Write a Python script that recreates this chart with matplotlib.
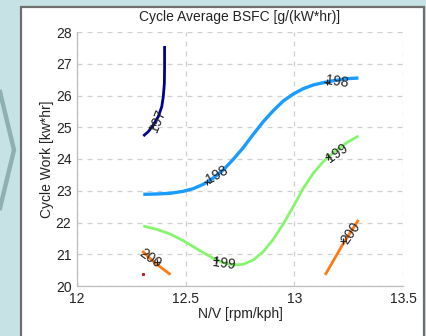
import matplotlib
matplotlib.use("Agg")
import matplotlib.pyplot as plt
from matplotlib.patches import Rectangle
from matplotlib.lines import Line2D

plt.rcParams['font.family'] = ['Liberation Sans', 'DejaVu Sans']

# Contour lines (level -> x, y)
x197 = [12.305, 12.328, 12.351, 12.374, 12.390, 12.397, 12.402, 12.403, 12.403]
y197 = [24.724, 24.861, 25.071, 25.333, 25.648, 25.963, 26.383, 26.908, 27.559]

x198 = [12.305, 12.367, 12.428, 12.489, 12.535, 12.581, 12.627, 12.673, 12.719,
        12.765, 12.811, 12.857, 12.903, 12.949, 12.995, 13.041, 13.087, 13.133,
        13.180, 13.241, 13.295]
y198 = [22.887, 22.898, 22.919, 22.982, 23.066, 23.202, 23.402, 23.654, 23.990,
        24.357, 24.777, 25.176, 25.522, 25.827, 26.047, 26.215, 26.331, 26.404,
        26.467, 26.530, 26.551]

x199 = [12.305, 12.367, 12.428, 12.489, 12.535, 12.581, 12.627, 12.673, 12.719,
        12.765, 12.811, 12.857, 12.903, 12.949, 12.995, 13.041, 13.087, 13.133,
        13.180, 13.241, 13.295]
y199 = [21.890, 21.785, 21.638, 21.428, 21.239, 21.050, 20.871, 20.735, 20.661,
        20.682, 20.819, 21.081, 21.470, 21.953, 22.499, 23.076, 23.549, 23.916,
        24.199, 24.514, 24.724]

x200a = [12.30, 12.36, 12.43]
y200a = [21.10, 20.72, 20.36]
x200b = [13.142, 13.22, 13.295]
y200b = [20.35, 21.28, 22.08]

# Contour labels: (text, x, y, rotation, marker x, marker y)
labels = [
    ("197", 12.372, 25.20, 68, 12.351, 25.07),
    ("198", 12.645, 23.50, 30, 12.597, 23.27),
    ("198", 13.197, 26.44, -8, 13.150, 26.42),
    ("199", 12.674, 20.70, -8, 12.640, 20.82),
    ("199", 13.197, 24.18, 35, 13.156, 24.05),
    ("200", 12.336, 20.87, -35, 12.367, 20.77),
    ("200", 13.258, 21.66, 55, 13.225, 21.43),
]

fig = plt.figure(figsize=(4.27, 3.36), dpi=100)
fig.patch.set_facecolor('#c6e2e5')

# white panel
fig.patches.append(Rectangle((21/427, -0.05), (424-21)/427, 1.05 - 7/336,
                             transform=fig.transFigure, facecolor='white',
                             edgecolor='#6e6e6e', linewidth=1.6, zorder=-5))
# chevron
fig.lines.append(Line2D([0, 14/427, 0], [1-92/336, 1-150/336, 1-208/336],
                        transform=fig.transFigure, color='#8fb0b2', linewidth=3.2,
                        solid_joinstyle='miter', zorder=-5))

ax = fig.add_axes([77/427, 1-286/336, (403-77)/427, (286-32)/336])
ax.set_zorder(2)
ax.set_facecolor('white')

ax.plot(x197, y197, color='#00008f', linewidth=2.0, solid_capstyle='butt')
ax.plot(x198, y198, color='#1a9cff', linewidth=2.4, solid_capstyle='butt')
ax.plot(x199, y199, color='#86f56e', linewidth=2.0, solid_capstyle='butt')
ax.plot(x200a, y200a, color='#ff7a12', linewidth=2.0, solid_capstyle='butt')
ax.plot(x200b, y200b, color='#ff7a12', linewidth=2.0, solid_capstyle='butt')
ax.plot([12.305], [20.37], marker='s', markersize=1.2, color='#b02020', linestyle='none')

for t, tx, ty, rot, mx, my in labels:
    ax.plot([mx], [my], marker='+', markersize=5, color='#222222', markeredgewidth=0.8)
    ax.text(tx, ty, t, rotation=rot, ha='center', va='center', fontsize=10,
            color='#222222', rotation_mode='anchor')

ax.set_xlim(12, 13.5)
ax.set_ylim(20, 28)
ax.set_xticks([12, 12.5, 13, 13.5])
ax.set_xticklabels(['12', '12.5', '13', '13.5'])
ax.set_yticks(range(20, 29))
ax.grid(True, linestyle=(0, (4, 4)), color='#cfcfcf', linewidth=0.9)
ax.set_axisbelow(True)
for s in ['top', 'right']:
    ax.spines[s].set_visible(False)
for s in ['left', 'bottom']:
    ax.spines[s].set_color('#bdbdbd')
    ax.spines[s].set_linewidth(0.9)
ax.tick_params(length=0, labelsize=10, colors='#222222', pad=4)

ax.set_title('Cycle Average BSFC [g/(kW*hr)]', fontsize=10, color='#222222', pad=8)
ax.set_xlabel('N/V [rpm/kph]', fontsize=10, color='#222222', labelpad=1)
ax.set_ylabel('Cycle Work [kw*hr]', fontsize=10, color='#222222', labelpad=1)

fig.savefig('out.png', dpi=100, facecolor=fig.get_facecolor())
